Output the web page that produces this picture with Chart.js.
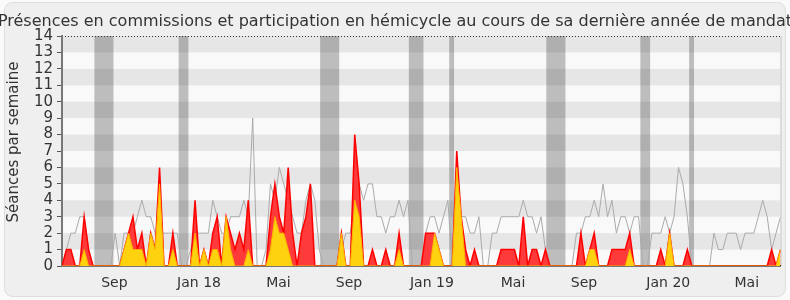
<!DOCTYPE html>
<html>
<head>
<meta charset="utf-8">
<script src="https://cdn.jsdelivr.net/npm/chart.js@4.4.0/dist/chart.umd.min.js"></script>
<style>
	body { margin: 0; background: #fafafa; }
</style>
</head>
<body>
<canvas id="grafica" width="790" height="300"></canvas>
<script>
// une valeur par semaine, de juin 2017 a juin 2020
var commission = [
	0,1,1,0,0,3,1,0,0,0, 0,0,0,0,1,2,3,1,2,0, 2,1,6,0,0,2,0,0,0,0,
	4,0,1,0,2,3,0,3,2,1, 2,1,4,0,0,0,0,3,5,3, 2,6,2,0,2,3,5,0,0,0,
	0,0,0,2,0,0,8,5,0,0, 1,0,0,1,0,0,2,0,0,0, 0,0,2,2,2,1,0,0,0,7,
	3,1,0,1,0,0,0,0,0,1, 1,1,1,0,3,0,1,1,0,1, 0,0,0,0,0,0,0,2,0,1,
	2,0,0,0,1,1,1,1,2,0, 0,0,0,0,0,1,0,2,0,0, 0,1,0,0,0,0,0,0,0,0,
	0,0,0,0,0,0,0,0,0,0, 1,0,1
];
var hemicycle = [
	0,0,0,0,0,1,0,0,0,0, 0,0,0,0,1,2,1,1,1,0, 2,1,5,0,0,1,0,0,0,0,
	2,0,1,0,1,1,0,3,1,0, 0,0,1,0,0,0,0,1,3,2, 2,1,0,0,0,0,0,0,0,0,
	0,0,0,2,0,0,4,3,0,0, 0,0,0,0,0,0,1,0,0,0, 0,0,0,0,2,1,0,0,0,6,
	3,0,0,0,0,0,0,0,0,0, 0,0,0,0,0,0,0,0,0,0, 0,0,0,0,0,0,0,0,0,1,
	1,0,0,0,0,0,0,0,1,0, 0,0,0,0,0,0,0,2,0,0, 0,0,0,0,0,0,0,0,0,0,
	0,0,0,0,0,0,0,0,0,0, 0,0,1
];
var mediane = [
	0,1,2,2,3,3,1,0,0,0, 0,0,2,0,2,2,2,3,4,3, 3,2,2,2,2,2,2,0,0,1,
	2,2,2,2,4,3,2,2,3,3, 3,4,3,9,0,0,1,5,4,6, 5,4,3,2,2,4,5,4,1,0,
	0,0,0,1,2,2,4,5,4,5, 5,3,3,2,3,3,4,3,4,0, 0,0,2,3,3,2,3,4,0,2,
	3,3,2,2,3,0,0,2,2,3, 3,3,3,3,4,3,3,2,3,1, 0,0,0,0,0,0,2,2,3,3,
	4,3,5,3,4,2,3,3,2,3, 3,0,0,2,2,2,3,2,3,6, 5,3,0,0,0,0,0,2,1,1,
	2,2,2,1,2,2,2,3,4,3, 1,2,3
];
// vacances parlementaires (debut, fin) en semaines
var vacances = [[7.3, 11.6], [26.3, 28.5], [58.2, 62.5], [78.2, 81.5], [87.3, 88.4], [109.2, 113.5], [130.4, 132.6], [141.4, 142.5]];
var posMois = [11.8, 30.9, 48.8, 64.7, 83.4, 101.7, 117.7, 136.7, 154.4];
var nomsMois = ["Sep", "Jan 18", "Mai", "Sep", "Jan 19", "Mai", "Sep", "Jan 20", "Mai"];
var titre = "Présences en commissions et participation en hémicycle au cours de sa dernière année de mandat";
var titreY = "Séances par semaine";

var police = "'DejaVu Sans', sans-serif";

function points(valeurs) {
	return valeurs.map(function(v, i) { return {x: i, y: v}; });
}

var fond = {
	id: "fond",
	beforeDraw: function(chart) {
		var ctx = chart.ctx, a = chart.chartArea, x = chart.scales.x, y = chart.scales.y;
		ctx.save();
		ctx.fillStyle = "#fafafa";
		ctx.fillRect(0, 0, chart.width, chart.height);
		ctx.beginPath();
		ctx.roundRect(4.5, 2.5, 781, 294, 8);
		ctx.fillStyle = "#efefef";
		ctx.fill();
		ctx.strokeStyle = "#dddddd";
		ctx.lineWidth = 1;
		ctx.stroke();

		// titres, sans compression (le titre deborde du cadre comme l'original)
		ctx.fillStyle = "#333";
		ctx.font = "16px " + police;
		ctx.textAlign = "center";
		ctx.textBaseline = "alphabetic";
		ctx.fillText(titre, chart.width / 2, 26);
		ctx.save();
		ctx.translate(18, 142);
		ctx.rotate(-Math.PI / 2);
		ctx.font = "15px " + police;
		ctx.fillText(titreY, 0, 0);
		ctx.restore();

		// bandes horizontales
		ctx.fillStyle = "#f9f9f9";
		ctx.fillRect(a.left, a.top, a.right - a.left, a.bottom - a.top);
		ctx.fillStyle = "#e6e6e6";
		for (var v = 1; v < 14; v += 2) {
			var y1 = y.getPixelForValue(v + 1), y0 = y.getPixelForValue(v);
			ctx.fillRect(a.left, y1, a.right - a.left, y0 - y1);
		}
		// vacances
		ctx.fillStyle = "rgba(20,20,20,0.26)";
		vacances.forEach(function(p) {
			var x0 = x.getPixelForValue(p[0]), x1 = x.getPixelForValue(p[1]);
			ctx.fillRect(x0, a.top, x1 - x0, a.bottom - a.top);
		});
		// pointilles en haut, trait a droite
		ctx.strokeStyle = "#333";
		ctx.setLineDash([1, 2]);
		ctx.beginPath();
		ctx.moveTo(a.left, a.top + 0.5);
		ctx.lineTo(a.right, a.top + 0.5);
		ctx.stroke();
		ctx.setLineDash([]);
		ctx.strokeStyle = "#c8c8c8";
		ctx.beginPath();
		ctx.moveTo(a.right + 0.5, a.top);
		ctx.lineTo(a.right + 0.5, a.bottom);
		ctx.stroke();
		ctx.restore();
	}
};

var grafica = new Chart(document.getElementById("grafica"), {
	type: "line",
	data: {
		datasets: [{
			label: "Participation en hémicycle",
			data: points(hemicycle),
			fill: "origin",
			backgroundColor: "#ffd20f",
			borderColor: "#ffb400",
			borderWidth: 1,
			pointRadius: 0,
			order: 0
		}, {
			label: "Présences en commission",
			data: points(commission),
			fill: "origin",
			backgroundColor: "#ff3a3a",
			borderColor: "#ff0000",
			borderWidth: 1.5,
			pointRadius: 0,
			order: 1
		}, {
			label: "Médiane",
			data: points(mediane),
			fill: false,
			borderColor: "#aaaaaa",
			borderWidth: 1,
			pointRadius: 0,
			order: 2
		}]
	},
	options: {
		responsive: false,
		animation: false,
		devicePixelRatio: 1,
		layout: { padding: { left: 0, right: 9.5, top: 36, bottom: 0 } },
		plugins: {
			legend: { display: false },
			tooltip: { enabled: false },
			title: { display: false }
		},
		scales: {
			x: {
				type: "linear",
				min: 0,
				max: mediane.length - 1,
				afterBuildTicks: function(scale) {
					scale.ticks = posMois.map(function(p) { return {value: p}; });
				},
				afterFit: function(scale) { scale.height = 34; },
				grid: { display: false },
				border: { color: "#000", width: 1.5 },
				ticks: {
					autoSkip: false,
					maxRotation: 0,
					padding: 1,
					color: "#333",
					font: { family: police, size: 14 },
					callback: function(v, i) { return nomsMois[i]; }
				}
			},
			y: {
				min: 0,
				max: 14,
				afterFit: function(scale) { scale.width = 62; },
				grid: { drawOnChartArea: false, drawTicks: true, tickLength: 5, color: "#555" },
				border: { color: "#777", width: 2 },
				ticks: {
					stepSize: 1,
					autoSkip: false,
					padding: 4,
					color: "#333",
					font: { family: police, size: 15 }
				}
			}
		}
	},
	plugins: [fond]
});
</script>
</body>
</html>
